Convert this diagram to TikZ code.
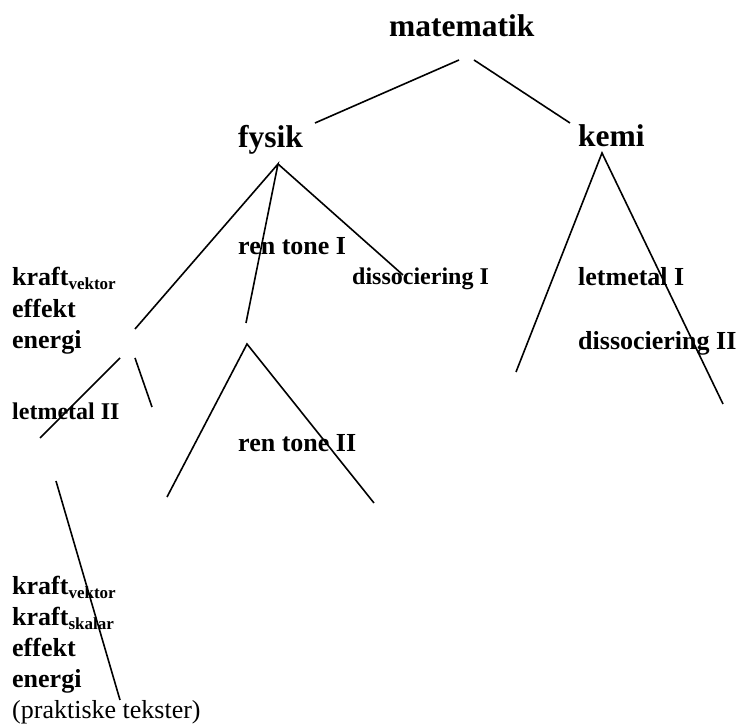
\documentclass[tikz,border=0pt]{standalone}
\usepackage{fontspec}
\setmainfont{Liberation Serif}
\newcommand{\subtxt}[1]{\raisebox{-4pt}{\fontsize{17}{17}\selectfont #1}}
\begin{document}
\begin{tikzpicture}[x=1pt,y=1pt,
  big/.style={anchor=base west,inner sep=0pt,font=\fontsize{31.5}{36}\selectfont\bfseries},
  lbl/.style={anchor=base west,inner sep=0pt,font=\fontsize{26}{31}\selectfont\bfseries},
  sml/.style={anchor=base west,inner sep=0pt,font=\fontsize{24}{29}\selectfont\bfseries},
  reg/.style={anchor=base west,inner sep=0pt,font=\fontsize{26}{31}\selectfont},
  edge/.style={line width=1.6pt,line cap=butt}]
\useasboundingbox (0,0) rectangle (745,727);
% labels
\node[big] (mat) at (389,690) {matematik};
\node[big] (fys) at (238,579) {fysik};
\node[big] (kem) at (578,580) {kemi};
\node[lbl] (rt1) at (238,472) {ren tone I};
\node[sml] (dis1) at (352,442) {dissociering I};
\node[lbl] (lm1) at (578,441) {letmetal I};
\node[lbl] (dis2) at (578,377) {dissociering II};
\node[lbl] (kv1) at (12,441) {kraft\subtxt{vektor}};
\node[lbl] (ef1) at (12,409) {effekt};
\node[lbl] (en1) at (12,378) {energi};
\node[sml] (lm2) at (12,307) {letmetal II};
\node[lbl] (rt2) at (238,275) {ren tone II};
\node[lbl] (kv2) at (12,132) {kraft\subtxt{vektor}};
\node[lbl] (ks2) at (12,101) {kraft\subtxt{skalar}};
\node[lbl] (ef2) at (12,70) {effekt};
\node[lbl] (en2) at (12,39) {energi};
\node[reg] (pt) at (12,8) {(praktiske tekster)};
% line end points
\coordinate (m1) at (459,667);
\coordinate (m1e) at (315,604);
\coordinate (m2) at (474,667);
\coordinate (m2e) at (570,604);
\coordinate (fa) at (278,563);
\coordinate (fl) at (135,398);
\coordinate (fm) at (246,404);
\coordinate (fr) at (403,452);
\coordinate (la) at (120,369);
\coordinate (lae) at (40,289);
\coordinate (lb) at (135,369);
\coordinate (lbe) at (152,320);
\coordinate (ra) at (247,383);
\coordinate (rl) at (167,230);
\coordinate (rr) at (374,224);
\coordinate (ka) at (602,574);
\coordinate (kl) at (516,355);
\coordinate (kr) at (723,323);
\coordinate (bt) at (56,246);
\coordinate (bb) at (120,27);
% connectors
\draw[edge] (m1) -- (m1e);
\draw[edge] (m2) -- (m2e);
\draw[edge] (fl) -- (fa) -- (fm);
\draw[edge] (fa) -- (fr);
\draw[edge] (la) -- (lae);
\draw[edge] (lb) -- (lbe);
\draw[edge] (rl) -- (ra) -- (rr);
\draw[edge] (kl) -- (ka) -- (kr);
\draw[edge] (bt) -- (bb);
\end{tikzpicture}
\end{document}
